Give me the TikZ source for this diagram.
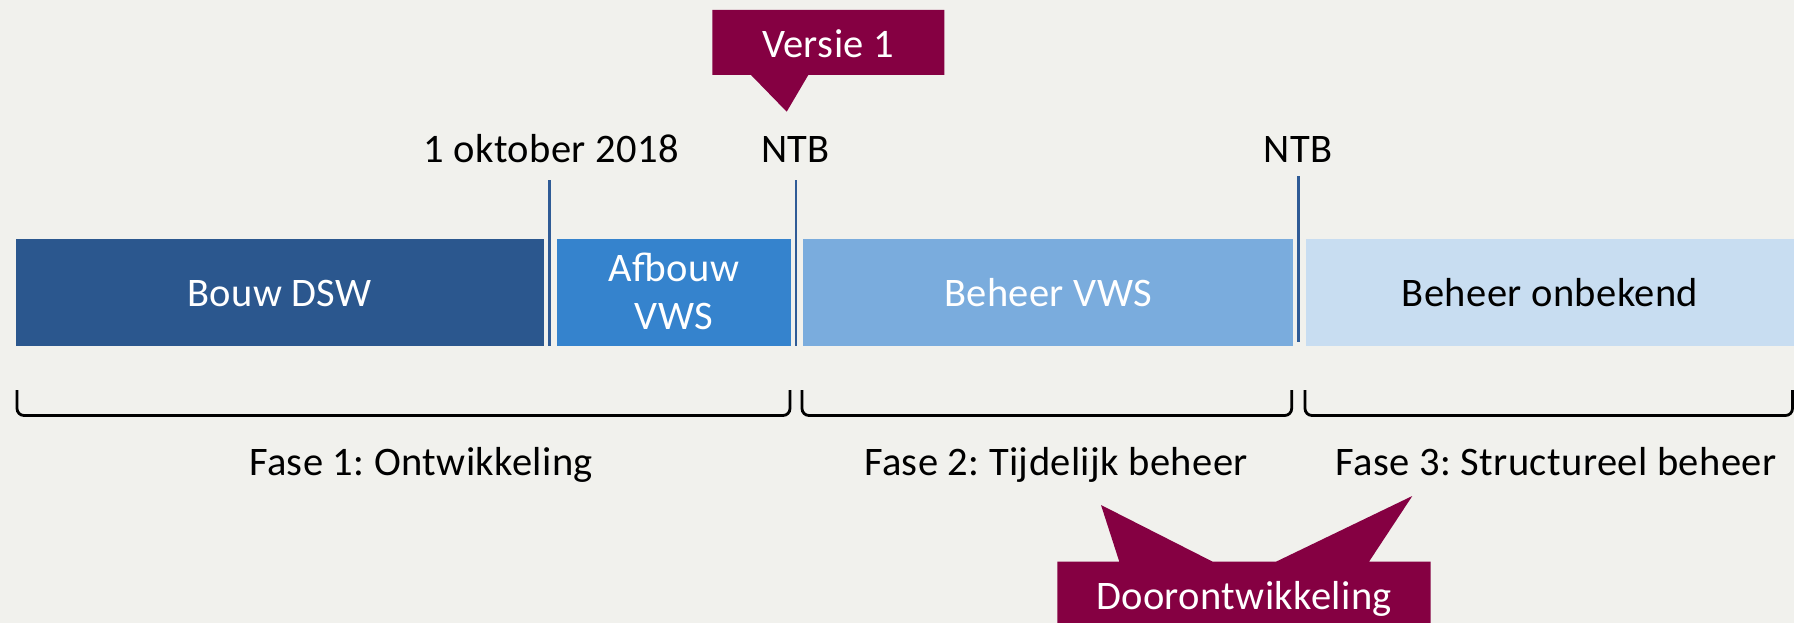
\documentclass[tikz,border=0pt]{standalone}
\usepackage{fontspec}
\setmainfont{Carlito}[LetterSpace=1.0]
\frenchspacing
\definecolor{bgc}{HTML}{F1F1ED}
\definecolor{cdark}{HTML}{2B578E}
\definecolor{cmid}{HTML}{3583CD}
\definecolor{clight}{HTML}{7AACDD}
\definecolor{cpale}{HTML}{C8DDF1}
\definecolor{cline}{HTML}{2F5B96}
\definecolor{cmaroon}{HTML}{850042}
\begin{document}
\begin{tikzpicture}[x=1pt,y=-1pt,
  bar/.style={draw=none,inner sep=0pt,outer sep=0pt,anchor=north west,minimum height=106.7pt},
  lbl/.style={inner sep=0pt,outer sep=0pt,anchor=base,font=\fontsize{40.5}{48}\selectfont},
  wlbl/.style={lbl,text=white},
  tick/.style={draw=cline,line width=2.6pt},
  brace/.style={draw=black,line width=2.8pt,rounded corners=7pt},
  callout/.style={fill=cmaroon,draw=none}]
\useasboundingbox (0,0) rectangle (1794,623);
\fill[bgc] (0,0) rectangle (1794,623);

% bars
\node[bar,fill=cdark,minimum width=528pt] (bouw) at (16,239) {};
\node[bar,fill=cmid,minimum width=234pt] (afbouw) at (557,239) {};
\node[bar,fill=clight,minimum width=489.7pt] (beheer) at (803.3,239) {};
\node[bar,fill=cpale,minimum width=488pt] (onbekend) at (1306,239) {};

\node[wlbl] (tbouw) at (279.5,306.7) {Bouw DSW};
\node[wlbl] (tafb1) at (674,281.7) {Afbouw};
\node[wlbl] (tafb2) at (674,329.3) {VWS};
\node[wlbl] (tbeh) at (1048,306.7) {Beheer VWS};
\node[lbl] (tonb) at (1550,306.7) {Beheer onbekend};

% milestone ticks
\coordinate (m1t) at (549.7,180); \coordinate (m1b) at (549.7,345.7);
\coordinate (m2t) at (796,180);   \coordinate (m2b) at (796,345.7);
\coordinate (m3t) at (1298.3,176);\coordinate (m3b) at (1298.3,341.7);
\draw[tick] (m1t) -- (m1b);
\draw[tick] (m2t) -- (m2b);
\draw[tick] (m3t) -- (m3b);

\node[lbl] (okt) at (551.3,162.7) {1 oktober 2018};
\node[lbl] (ntb1) at (795.5,162.7) {NTB};
\node[lbl] (ntb2) at (1298.3,162.7) {NTB};

% braces
\draw[brace] (17,390) -- (17,415.5) -- (790,415.5) -- (790,390);
\draw[brace] (802,390) -- (802,415.5) -- (1291.7,415.5) -- (1291.7,390);
\draw[brace] (1305,390) -- (1305,415.5) -- (1792.5,415.5) -- (1792.5,390);

\node[lbl] (f1) at (421,475.7) {Fase 1: Ontwikkeling};
\node[lbl] (f2) at (1056,475.7) {Fase 2: Tijdelijk beheer};
\node[lbl] (f3) at (1556,475.7) {Fase 3: Structureel beheer};

% callouts
\fill[callout] (712.3,10) -- (944.3,10) -- (944.3,75) -- (808.3,75) -- (786.7,111.7) -- (751,75) -- (712.3,75) -- cycle;
\node[wlbl] (versie) at (828,57.3) {Versie 1};

\fill[callout] (1057.3,561.7) -- (1119.3,561.7) -- (1101,505) -- (1212.7,561.7) -- (1276,561.7) -- (1412.3,496) -- (1369,561.7) -- (1430.7,561.7) -- (1430.7,623) -- (1057.3,623) -- cycle;
\node[wlbl] (door) at (1244,609.3) {Doorontwikkeling};
\end{tikzpicture}
\end{document}
